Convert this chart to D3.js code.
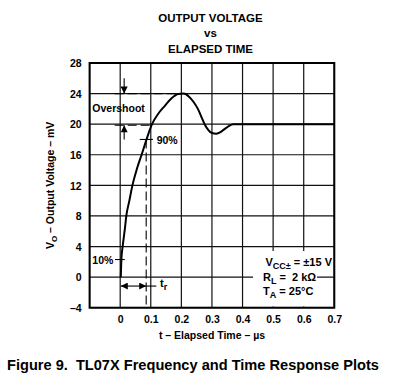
<!DOCTYPE html>
<html>
<head>
<meta charset="utf-8">
<script src="https://cdn.jsdelivr.net/npm/d3@7"></script>
<style>
  body { margin: 0; background: #fff; }
  text { font-family: "Liberation Sans", Arial, sans-serif; font-weight: bold; fill: #000; white-space: pre; }
</style>
</head>
<body>
<div id="graph1"></div>
<script>
// chart values
const timeUs  = [0.002, 0.004, 0.008, 0.015, 0.02, 0.03, 0.04, 0.055, 0.07, 0.086, 0.104, 0.125, 0.146, 0.168, 0.19, 0.208, 0.225, 0.24, 0.254, 0.265, 0.276, 0.289, 0.30, 0.314, 0.328, 0.341, 0.355, 0.369, 0.45, 0.55, 0.7];
const voltsMv = [0, 2.4, 4, 6.2, 8, 10, 12, 14.2, 16, 18, 20, 21.4, 22.4, 23.4, 23.95, 24, 23.6, 22.9, 22.0, 21.0, 20.0, 19.2, 18.85, 18.75, 18.95, 19.35, 19.75, 20, 20, 20, 20];
const xTicks = [-0.1, 0, 0.1, 0.2, 0.3, 0.4, 0.5, 0.6, 0.7];
const yTicks = [-4, 0, 4, 8, 12, 16, 20, 24, 28];
const xLabels = ["0", "0.1", "0.2", "0.3", "0.4", "0.5", "0.6", "0.7"];

// annotation levels (mV) and times (us)
const overshootLevels = [24, 19.85];
const level90 = 18, level10 = 2.3, riseEnd = 0.085, trLevel = -1.17;

const W = 398, H = 379;
const plot = {left: 89.6, right: 334.3, top: 63, bottom: 307.7};

let svg = d3.select("#graph1").append("svg")
    .attr("width", W).attr("height", H);

let x = d3.scaleLinear().domain([-0.1, 0.7]).range([plot.left, plot.right]);
let y = d3.scaleLinear().domain([-4, 28]).range([plot.bottom, plot.top]);

// title
let title = svg.append("g").attr("text-anchor", "middle");
title.append("text").attr("x", 210.5).attr("y", 21.5).style("font-size", "11.5px").text("OUTPUT VOLTAGE");
title.append("text").attr("x", 210.5).attr("y", 36.5).style("font-size", "11.5px").text("vs");
title.append("text").attr("x", 210.5).attr("y", 52.5).style("font-size", "11.5px").text("ELAPSED TIME");

// grid
let grid = svg.append("g").attr("stroke", "#111").attr("stroke-width", 1.2);
grid.selectAll(".vx").data(xTicks).enter().append("line")
    .attr("x1", d => x(d)).attr("x2", d => x(d))
    .attr("y1", plot.top).attr("y2", plot.bottom);
grid.selectAll(".hy").data(yTicks).enter().append("line")
    .attr("y1", d => y(d)).attr("y2", d => y(d))
    .attr("x1", plot.left).attr("x2", plot.right);

// knock-out behind the conditions text
svg.append("rect").attr("x", 253).attr("y", 251).attr("width", 64).attr("height", 55.5).attr("fill", "#fff");
svg.append("rect").attr("x", 253).attr("y", 254).attr("width", 80).attr("height", 14).attr("fill", "#fff");

// border
svg.append("rect")
    .attr("x", plot.left).attr("y", plot.top)
    .attr("width", plot.right - plot.left).attr("height", plot.bottom - plot.top)
    .attr("fill", "none").attr("stroke", "#000").attr("stroke-width", 2);

// axes labels (ticks)
let yAxis = svg.append("g")
    .attr("transform", `translate(${plot.left - 8}, 0)`)
    .call(d3.axisLeft(y).tickValues(yTicks).tickSize(0).tickPadding(0)
        .tickFormat(d => d < 0 ? "\u2013" + Math.abs(d) : d));
yAxis.select(".domain").remove();
yAxis.selectAll("text").style("font-size", "10.5px").style("font-family", null).attr("dy", "0.36em");

let xAxis = svg.append("g")
    .attr("transform", `translate(0, ${plot.bottom + 6})`)
    .call(d3.axisBottom(x).tickValues(xTicks.slice(1)).tickSize(0).tickPadding(0)
        .tickFormat((d, i) => xLabels[i]));
xAxis.select(".domain").remove();
xAxis.selectAll("text").style("font-size", "10.5px").style("font-family", null).attr("dy", "0.9em");

// axis titles
svg.append("text").attr("x", 212).attr("y", 338.5).attr("text-anchor", "middle")
    .style("font-size", "10.5px").text("t \u2013 Elapsed Time \u2013 \u00b5s");

let yt = svg.append("text")
    .attr("transform", `translate(53.5, ${(plot.top + plot.bottom) / 2}) rotate(-90)`)
    .attr("text-anchor", "middle").style("font-size", "10.5px");
yt.append("tspan").text("V");
yt.append("tspan").attr("dy", 3).style("font-size", "8px").text("O");
yt.append("tspan").attr("dy", -3).text(" \u2013 Output Voltage \u2013 mV");

// arrow markers
let defs = svg.append("defs");
defs.append("marker").attr("id", "head").attr("viewBox", "0 0 10 10")
    .attr("refX", 10).attr("refY", 5).attr("markerWidth", 8).attr("markerHeight", 7)
    .attr("markerUnits", "userSpaceOnUse").attr("orient", "auto-start-reverse")
    .append("path").attr("d", "M0,0 L10,5 L0,10 Z").attr("fill", "#000");

let ann = svg.append("g").attr("stroke", "#000").attr("fill", "none");

// overshoot dashed levels
ann.selectAll(".os").data(overshootLevels).enter().append("line")
    .attr("x1", x(-0.018)).attr("x2", (d, i) => i === 0 ? x(0.195) : x(0.102))
    .attr("y1", d => y(d)).attr("y2", d => y(d))
    .attr("stroke-width", 1.1).attr("stroke-dasharray", "9,4");
ann.append("line").attr("x1", x(0.013)).attr("x2", x(0.013))
    .attr("y1", y(26)).attr("y2", y(24)).attr("stroke-width", 1.1).attr("marker-end", "url(#head)");
ann.append("line").attr("x1", x(0.013)).attr("x2", x(0.013))
    .attr("y1", y(18)).attr("y2", y(19.85)).attr("stroke-width", 1.1).attr("marker-end", "url(#head)");

// 90% and 10% markers
ann.append("line").attr("x1", x(0.064)).attr("x2", x(0.107))
    .attr("y1", y(level90)).attr("y2", y(level90)).attr("stroke-width", 1.1);
ann.append("line").attr("x1", x(-0.017)).attr("x2", x(0.015))
    .attr("y1", y(level10)).attr("y2", y(level10)).attr("stroke-width", 1.1);
ann.append("line").attr("x1", x(riseEnd)).attr("x2", x(riseEnd))
    .attr("y1", y(level90)).attr("y2", plot.bottom)
    .attr("stroke-width", 1.1).attr("stroke-dasharray", "9,4");

// rise-time arrow
ann.append("line").attr("x1", x(0.002)).attr("x2", x(riseEnd))
    .attr("y1", y(trLevel)).attr("y2", y(trLevel)).attr("stroke-width", 1.1)
    .attr("marker-start", "url(#head)").attr("marker-end", "url(#head)");
ann.append("line").attr("x1", x(riseEnd)).attr("x2", x(0.118))
    .attr("y1", y(trLevel)).attr("y2", y(trLevel)).attr("stroke-width", 1.1);

// response curve
let line = d3.line().x(d => x(d[0])).y(d => y(d[1])).curve(d3.curveMonotoneX);
svg.append("path").datum(timeUs.map((t, i) => [t, voltsMv[i]]))
    .attr("d", line).attr("fill", "none").attr("stroke", "#000").attr("stroke-width", 2);

// annotation texts
svg.append("text").attr("x", 92.3).attr("y", 112).style("font-size", "10.5px").text("Overshoot");
svg.append("text").attr("x", 156.7).attr("y", y(level90) + 4.5).style("font-size", "10.5px").text("90%");
svg.append("text").attr("x", 92.3).attr("y", y(level10) + 4).style("font-size", "10.5px").text("10%");
let tr = svg.append("text").attr("x", 160).attr("y", y(trLevel) + 1).style("font-size", "11px");
tr.append("tspan").text("t");
tr.append("tspan").attr("dy", 3).style("font-size", "9px").text("r");

// conditions
let c1 = svg.append("text").attr("x", 332).attr("y", 266).attr("text-anchor", "end").style("font-size", "11px");
c1.append("tspan").text("V");
c1.append("tspan").attr("dy", 3).style("font-size", "9px").text("CC\u00b1");
c1.append("tspan").attr("dy", -3).text(" = \u00b115 V");
let c2 = svg.append("text").attr("x", 263).attr("y", 280.7).style("font-size", "11px");
c2.append("tspan").text("R");
c2.append("tspan").attr("dy", 3).style("font-size", "9px").text("L");
c2.append("tspan").attr("dy", -3).text(" =  2 k\u03a9");
let c3 = svg.append("text").attr("x", 263).attr("y", 295).style("font-size", "11px");
c3.append("tspan").text("T");
c3.append("tspan").attr("dy", 3).style("font-size", "9px").text("A");
c3.append("tspan").attr("dy", -3).text(" = 25\u00b0C");

// caption
svg.append("text").attr("x", 7).attr("y", 370).style("font-size", "14.6px")
    .text("Figure 9.  TL07X Frequency and Time Response Plots");
</script>
</body>
</html>
